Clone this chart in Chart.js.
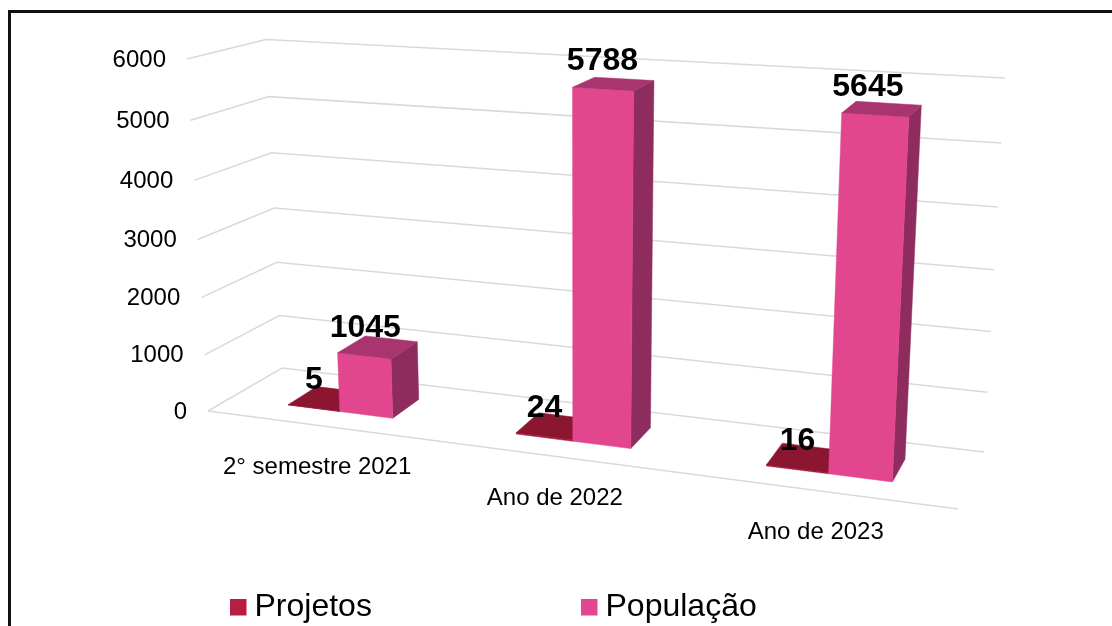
<!DOCTYPE html>
<html lang="pt">
<head>
<meta charset="utf-8">
<title>Projetos e População</title>
<script src="https://cdn.jsdelivr.net/npm/chart.js@4/dist/chart.umd.min.js"></script>
<style>
  html, body { margin: 0; background: #fff; overflow: hidden; }
  #frame { position: absolute; left: 8px; top: 10px; right: 0; bottom: 0;
           border-top: 3px solid #111; border-left: 3px solid #111; }
  #chart { position: absolute; left: 0; top: 0; }
</style>
</head>
<body>
<div id="frame"></div>
<canvas id="chart" width="1112" height="626"></canvas>
<script>
// Chart data
const categories = ['2° semestre 2021', 'Ano de 2022', 'Ano de 2023'];
const projetos = [5, 24, 16];
const populacao = [1045, 5788, 5645];
const yTicks = [0, 1000, 2000, 3000, 4000, 5000, 6000];

const FONT = '"Liberation Sans", Arial, sans-serif';

// Faces of each series: front, top, side
const faces = {
  'Projetos': ['#a81a42', '#8c1530', '#7c1230'],
  'População': ['#e2468f', '#a93570', '#8f2c5e']
};

// Corners of the 3D box in the picture, [x, y]
const floorBox = { fl: [208, 411], fr: [958, 509], bl: [282, 368], br: [984, 452] };
const roofBox = { fl: [187, 59], fr: [980, 106], bl: [266, 39.5], br: [1005, 78] };
const BAR_FRONT = 0.31;
const BAR_BACK = 0.72;

// Left edge of each legend entry, the gap is too wide for the built-in legend
const legendX = [230, 581];

function mix(a, b, t) {
  return [a[0] + (b[0] - a[0]) * t, a[1] + (b[1] - a[1]) * t];
}

// u: along the categories, v: depth, h: height, each 0..1
function project(u, v, h) {
  const uu = u / (u + (1 - u) * 1.15);
  const hh = h * 0.95 / (1 - 0.05 * h);
  const plane = (b) => mix(mix(b.fl, b.fr, uu), mix(b.bl, b.br, uu), v);
  return mix(plane(floorBox), plane(roofBox), hh);
}

function polygon(ctx, pts, color) {
  ctx.beginPath();
  pts.forEach((p, i) => (i ? ctx.lineTo(p[0], p[1]) : ctx.moveTo(p[0], p[1])));
  ctx.closePath();
  ctx.fillStyle = color;
  ctx.strokeStyle = color;
  ctx.lineWidth = 0.5;
  ctx.fill();
  ctx.stroke();
}

const box3d = {
  id: 'box3d',
  beforeDatasetDraw() {
    return false; // bars are painted as boxes below
  },
  beforeDatasetsDraw(chart) {
    const ctx = chart.ctx;
    const area = chart.chartArea;
    const yScale = chart.scales.y;
    const toU = (x) => (x - area.left) / (area.right - area.left);
    const toH = (y) => (yScale.getPixelForValue(0) - y) / (yScale.getPixelForValue(0) - yScale.getPixelForValue(6000));

    ctx.save();

    // Walls and floor
    ctx.strokeStyle = '#d9d9d9';
    ctx.lineWidth = 1.5;
    yScale.ticks.forEach((tick) => {
      const h = toH(yScale.getPixelForValue(tick.value));
      const a = project(0, 0, h);
      const b = project(0, 1, h);
      const c = project(1, 1, h);
      ctx.beginPath();
      ctx.moveTo(a[0], a[1]);
      ctx.lineTo(b[0], b[1]);
      ctx.lineTo(c[0], c[1]);
      ctx.stroke();
    });
    const fl = project(0, 0, 0);
    const fr = project(1, 0, 0);
    ctx.beginPath();
    ctx.moveTo(fl[0], fl[1]);
    ctx.lineTo(fr[0], fr[1]);
    ctx.stroke();

    // Y tick labels follow the slanted left edge
    ctx.fillStyle = '#000';
    ctx.font = '24px ' + FONT;
    ctx.textAlign = 'right';
    ctx.textBaseline = 'middle';
    yScale.ticks.forEach((tick) => {
      const p = project(0, 0, toH(yScale.getPixelForValue(tick.value)));
      ctx.fillText(String(tick.value), p[0] - 21, p[1] + 1);
    });

    // Category labels under the floor
    ctx.textAlign = 'center';
    const xScale = chart.scales.x;
    categories.forEach((label, i) => {
      const p = project(toU(xScale.getPixelForValue(i)), 0, 0);
      ctx.fillText(label, p[0] - 2, p[1] + 42);
    });

    // Boxes, left to right
    const labels = [];
    categories.forEach((_, i) => {
      chart.data.datasets.forEach((ds, d) => {
        const el = chart.getDatasetMeta(d).data[i];
        const u0 = toU(el.x - el.width / 2);
        const u1 = toU(el.x + el.width / 2);
        const h = toH(el.y);
        const [front, top, side] = faces[ds.label];
        const f0 = project(u0, BAR_FRONT, 0);
        const f1 = project(u1, BAR_FRONT, 0);
        const b1 = project(u1, BAR_BACK, 0);
        const tf0 = project(u0, BAR_FRONT, h);
        const tf1 = project(u1, BAR_FRONT, h);
        const tb0 = project(u0, BAR_BACK, h);
        const tb1 = project(u1, BAR_BACK, h);
        polygon(ctx, [f1, b1, tb1, tf1], side);
        polygon(ctx, [f0, f1, tf1, tf0], front);
        polygon(ctx, [tf0, tf1, tb1, tb0], top);
        labels.push({
          text: String(ds.data[i]),
          x: (f0[0] + f1[0] + tf0[0] + tf1[0]) / 4,
          y: (tf0[1] + tf1[1]) / 2 - 28
        });
      });
    });

    // Value labels
    ctx.fillStyle = '#000';
    ctx.font = 'bold 32px ' + FONT;
    labels.forEach((l) => ctx.fillText(l.text, l.x, l.y));

    // Legend
    ctx.font = '32px ' + FONT;
    ctx.textAlign = 'left';
    ctx.textBaseline = 'alphabetic';
    chart.data.datasets.forEach((ds, d) => {
      ctx.fillStyle = ds.backgroundColor;
      ctx.fillRect(legendX[d], 599, 16.5, 16.5);
      ctx.fillStyle = '#000';
      ctx.fillText(ds.label, legendX[d] + 24.5, 616);
    });

    ctx.restore();
  }
};

new Chart(document.getElementById('chart'), {
  type: 'bar',
  data: {
    labels: categories,
    datasets: [
      { label: 'Projetos', data: projetos, backgroundColor: '#b81e45' },
      { label: 'População', data: populacao, backgroundColor: '#e2468f' }
    ]
  },
  options: {
    responsive: false,
    animation: false,
    layout: { padding: 0 },
    datasets: { bar: { categoryPercentage: 0.47, barPercentage: 1 } },
    scales: {
      x: { display: false },
      y: { display: false, min: 0, max: yTicks[yTicks.length - 1], ticks: { stepSize: 1000 } }
    },
    plugins: {
      tooltip: { enabled: false },
      legend: { display: false }
    }
  },
  plugins: [box3d]
});
</script>
</body>
</html>
